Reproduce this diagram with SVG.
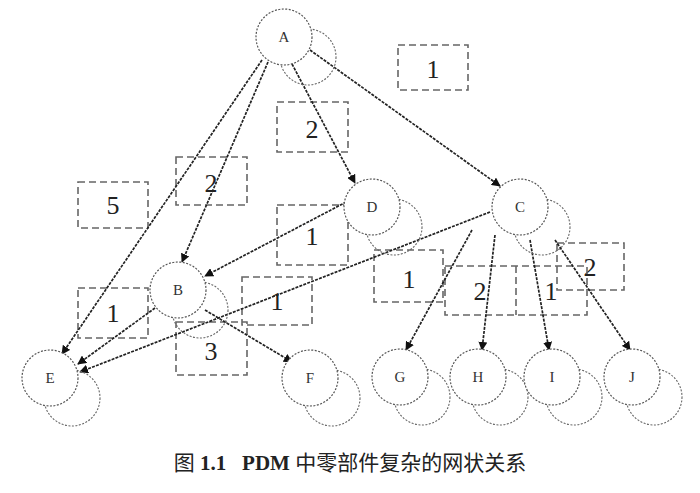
<svg xmlns="http://www.w3.org/2000/svg" width="700" height="493" viewBox="0 0 700 493">
<style>
.c{fill:#fff;stroke:#555;stroke-width:1.2;stroke-dasharray:2 1.5}
.s{fill:none;stroke:#666;stroke-width:1.1;stroke-dasharray:2 1.5}
.b{fill:none;stroke:#666;stroke-width:1.6;stroke-dasharray:7 4}
.t{font-family:"Liberation Serif",serif;font-size:15px;text-anchor:middle;fill:#333}
.n{font-family:"Liberation Serif",serif;font-size:26px;text-anchor:middle;fill:#222}
.e{stroke:#222;stroke-width:1.7;stroke-dasharray:3 1.2;fill:none;marker-end:url(#ah)}
</style>
<defs>
<marker id="ah" viewBox="0 0 10 10" refX="9" refY="5" markerWidth="9" markerHeight="9" orient="auto" markerUnits="userSpaceOnUse"><path d="M0,0L10,5L0,10z" fill="#111"/></marker>
</defs>
<rect width="700" height="493" fill="#fff"/>
<g id="labels">
<rect class="b" x="398" y="45" width="70" height="45"/><text class="n" x="433" y="78">1</text>
<rect class="b" x="277" y="102" width="71" height="50"/><text class="n" x="312" y="138">2</text>
<rect class="b" x="176" y="157" width="71" height="48"/><text class="n" x="211" y="192">2</text>
<rect class="b" x="78" y="182" width="70" height="46"/><text class="n" x="113" y="214">5</text>
<rect class="b" x="277" y="205" width="71" height="60"/><text class="n" x="312" y="245">1</text>
<rect class="b" x="242" y="277" width="70" height="48"/><text class="n" x="277" y="310">1</text>
<rect class="b" x="78" y="288" width="70" height="50"/><text class="n" x="113" y="322">1</text>
<rect class="b" x="176" y="322" width="71" height="53"/><text class="n" x="211" y="360">3</text>
<rect class="b" x="374" y="250" width="69" height="52"/><text class="n" x="409" y="288">1</text>
<rect class="b" x="557" y="243" width="67" height="47"/><text class="n" x="590" y="276">2</text>
<rect class="b" x="445" y="266" width="142" height="49"/><line class="b" x1="516" y1="266" x2="516" y2="315"/>
<text class="n" x="480" y="300">2</text><text class="n" x="551" y="300">1</text>
</g>
<g id="connectors">
<line class="e" x1="262" y1="60" x2="62" y2="354"/>
<line class="e" x1="268" y1="62" x2="182" y2="262"/>
<line class="e" x1="292" y1="64" x2="355" y2="183"/>
<line class="e" x1="310" y1="50" x2="500" y2="186"/>
<line class="e" x1="350" y1="200" x2="205" y2="276"/>
<line class="e" x1="490" y1="212" x2="80" y2="372"/>
<line class="e" x1="155" y1="308" x2="78" y2="364"/>
<line class="e" x1="205" y1="310" x2="292" y2="362"/>
<line class="e" x1="472" y1="230" x2="406" y2="350"/>
<line class="e" x1="495" y1="235" x2="482" y2="350"/>
<line class="e" x1="530" y1="240" x2="549" y2="350"/>
<line class="e" x1="555" y1="240" x2="630" y2="350"/>
</g>
<g id="nA"><circle class="s" cx="308" cy="57" r="28"/><circle class="c" cx="284" cy="37" r="28"/><text class="t" x="284" y="42">A</text></g>
<g id="nD"><circle class="s" cx="394" cy="227" r="28"/><circle class="c" cx="372" cy="207" r="28"/><text class="t" x="372" y="212">D</text></g>
<g id="nC"><circle class="s" cx="542" cy="227" r="28"/><circle class="c" cx="520" cy="207" r="28"/><text class="t" x="520" y="212">C</text></g>
<g id="nB"><circle class="s" cx="200" cy="310" r="28"/><circle class="c" cx="178" cy="290" r="28"/><text class="t" x="178" y="295">B</text></g>
<g id="nE"><circle class="s" cx="72" cy="398" r="28"/><circle class="c" cx="50" cy="378" r="28"/><text class="t" x="50" y="383">E</text></g>
<g id="nF"><circle class="s" cx="332" cy="398" r="28"/><circle class="c" cx="310" cy="378" r="28"/><text class="t" x="310" y="383">F</text></g>
<g id="nG"><circle class="s" cx="422" cy="397" r="28"/><circle class="c" cx="400" cy="377" r="28"/><text class="t" x="400" y="382">G</text></g>
<g id="nH"><circle class="s" cx="500" cy="397" r="28"/><circle class="c" cx="478" cy="377" r="28"/><text class="t" x="478" y="382">H</text></g>
<g id="nI"><circle class="s" cx="574" cy="397" r="28"/><circle class="c" cx="552" cy="377" r="28"/><text class="t" x="552" y="382">I</text></g>
<g id="nJ"><circle class="s" cx="654" cy="397" r="28"/><circle class="c" cx="632" cy="377" r="28"/><text class="t" x="632" y="382">J</text></g>
<text x="350" y="470" text-anchor="middle" xml:space="preserve" font-family="'Liberation Serif','Noto Sans CJK SC',serif" font-size="21" fill="#222">图 <tspan font-weight="bold">1.1</tspan>   <tspan font-weight="bold">PDM</tspan> 中零部件复杂的网状关系</text>
</svg>
